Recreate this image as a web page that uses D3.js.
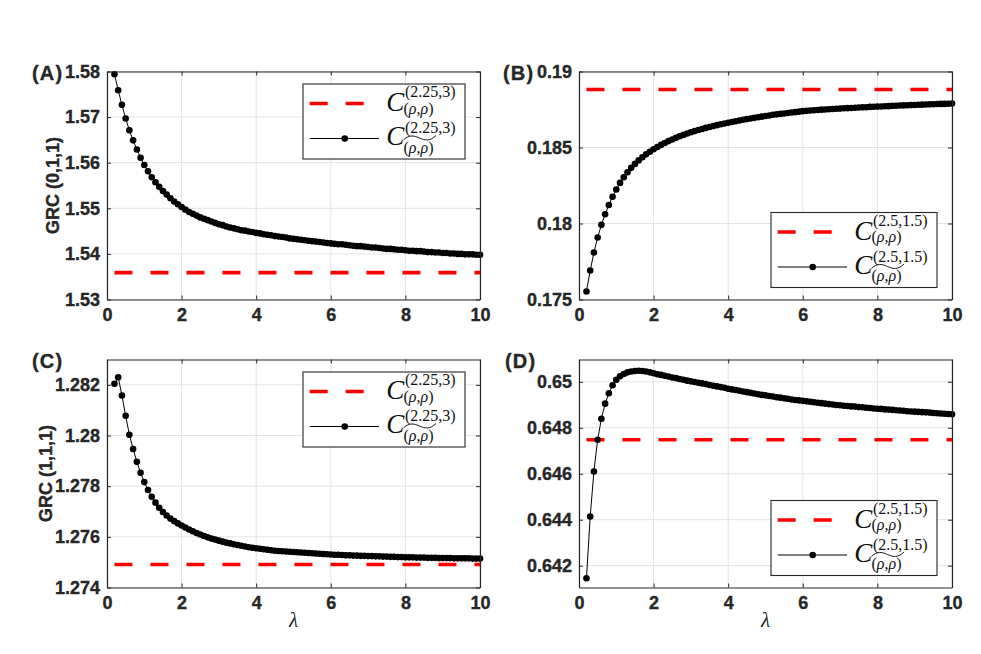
<!DOCTYPE html>
<html>
<head>
<meta charset="utf-8">
<script src="https://cdn.jsdelivr.net/npm/d3@7"></script>
<style>
  body { margin: 0; background: #fff; }
  .axis text { font-family: "Liberation Sans", Arial, sans-serif; font-weight: bold; font-size: 18px; fill: #262626; stroke: #262626; stroke-width: 0.35px; }
  .axis path, .axis line { stroke: #262626; }
</style>
</head>
<body>
<svg id="chart" width="981" height="654"></svg>
<script>
// lambda values (x axis of every panel)
var lambda = [0.2,0.3,0.4,0.5,0.6,0.7,0.8,0.9,
  1.0,1.1,1.2,1.3,1.4,1.5,1.6,1.7,1.8,1.9,
  2.0,2.1,2.2,2.3,2.4,2.5,2.6,2.7,2.8,2.9,
  3.0,3.1,3.2,3.3,3.4,3.5,3.6,3.7,3.8,3.9,
  4.0,4.1,4.2,4.3,4.4,4.5,4.6,4.7,4.8,4.9,
  5.0,5.1,5.2,5.3,5.4,5.5,5.6,5.7,5.8,5.9,
  6.0,6.1,6.2,6.3,6.4,6.5,6.6,6.7,6.8,6.9,
  7.0,7.1,7.2,7.3,7.4,7.5,7.6,7.7,7.8,7.9,
  8.0,8.1,8.2,8.3,8.4,8.5,8.6,8.7,8.8,8.9,
  9.0,9.1,9.2,9.3,9.4,9.5,9.6,9.7,9.8,9.9,
  10.0];

// (A) GRC (0,1,1), parameters (2.25,3)
var grcA = [1.5794,1.5759,1.5727,1.5697,1.5671,1.5649,1.5629,1.5611,
  1.5595,1.5581,1.5568,1.5557,1.5547,1.5538,1.5530,1.5522,1.5515,1.5509,
  1.5503,1.5497,1.5492,1.5488,1.5484,1.5480,1.5477,1.5474,1.5471,1.5468,
  1.5465,1.5463,1.5460,1.5458,1.5456,1.5454,1.5452,1.5451,1.5449,1.5448,
  1.5446,1.5445,1.5443,1.5442,1.5441,1.5439,1.5438,1.5437,1.5436,1.5434,
  1.5433,1.5432,1.5431,1.5430,1.5429,1.5428,1.5427,1.5426,1.5425,1.5424,
  1.5423,1.5422,1.5421,1.5421,1.5420,1.5419,1.5418,1.5417,1.5417,1.5416,
  1.5415,1.5414,1.5414,1.5413,1.5412,1.5411,1.5411,1.5410,1.5409,1.5409,
  1.5408,1.5407,1.5407,1.5406,1.5406,1.5405,1.5404,1.5404,1.5403,1.5403,
  1.5402,1.5402,1.5401,1.5401,1.5400,1.5400,1.5399,1.5399,1.5399,1.5398,
  1.5398];
var refA = 1.5359;

// (B) parameters (2.5,1.5)
var grcB = [0.17553,0.17691,0.17809,0.17908,0.17991,0.18061,0.18122,0.18176,
  0.18224,0.18267,0.18304,0.18337,0.18366,0.18392,0.18415,0.18436,0.18455,0.18472,
  0.18488,0.18503,0.18517,0.18530,0.18542,0.18553,0.18564,0.18574,0.18583,0.18592,
  0.18600,0.18608,0.18615,0.18622,0.18629,0.18635,0.18641,0.18647,0.18653,0.18658,
  0.18663,0.18668,0.18673,0.18678,0.18683,0.18687,0.18691,0.18695,0.18699,0.18703,
  0.18707,0.18711,0.18715,0.18718,0.18721,0.18724,0.18727,0.18730,0.18733,0.18736,
  0.18739,0.18741,0.18743,0.18745,0.18747,0.18749,0.18750,0.18752,0.18753,0.18755,
  0.18756,0.18758,0.18759,0.18760,0.18762,0.18763,0.18764,0.18765,0.18767,0.18768,
  0.18769,0.18770,0.18771,0.18772,0.18774,0.18775,0.18776,0.18777,0.18778,0.18779,
  0.18780,0.18781,0.18782,0.18783,0.18784,0.18785,0.18786,0.18787,0.18787,0.18788,
  0.18789];
var refB = 0.18882;

// (C) GRC (1,1,1), parameters (2.25,3)
var grcC = [1.28204,1.28230,1.28158,1.28078,1.28003,1.27947,1.27896,1.27853,
  1.27816,1.27785,1.27758,1.27735,1.27715,1.27698,1.27684,1.27672,1.27662,1.27653,
  1.27645,1.27637,1.27629,1.27622,1.27615,1.27609,1.27603,1.27598,1.27593,1.27589,
  1.27585,1.27581,1.27577,1.27574,1.27571,1.27568,1.27565,1.27562,1.27559,1.27557,
  1.27555,1.27553,1.27551,1.27549,1.27547,1.27545,1.27544,1.27543,1.27542,1.27541,
  1.27540,1.27539,1.27538,1.27537,1.27536,1.27535,1.27534,1.27533,1.27532,1.27531,
  1.27530,1.27529,1.27529,1.27528,1.27527,1.27527,1.27526,1.27526,1.27525,1.27525,
  1.27524,1.27524,1.27523,1.27523,1.27522,1.27522,1.27521,1.27521,1.27520,1.27520,
  1.27519,1.27519,1.27519,1.27518,1.27518,1.27518,1.27517,1.27517,1.27517,1.27516,
  1.27516,1.27516,1.27516,1.27515,1.27515,1.27515,1.27515,1.27515,1.27514,1.27514,
  1.27514];
var refC = 1.27491;

// (D) parameters (2.5,1.5)
var grcD = [0.64145,0.64414,0.64610,0.64748,0.64839,0.64905,0.64950,0.64985,
  0.65009,0.65024,0.65034,0.65041,0.65045,0.65047,0.65048,0.65047,0.65045,0.65041,
  0.65037,0.65033,0.65030,0.65026,0.65023,0.65019,0.65016,0.65012,0.65009,0.65005,
  0.65002,0.64999,0.64996,0.64993,0.64990,0.64986,0.64983,0.64980,0.64977,0.64974,
  0.64970,0.64967,0.64964,0.64961,0.64958,0.64955,0.64952,0.64949,0.64946,0.64943,
  0.64941,0.64938,0.64936,0.64933,0.64931,0.64928,0.64926,0.64923,0.64921,0.64919,
  0.64917,0.64915,0.64913,0.64911,0.64909,0.64907,0.64905,0.64903,0.64901,0.64899,
  0.64898,0.64896,0.64895,0.64893,0.64892,0.64890,0.64889,0.64887,0.64886,0.64884,
  0.64883,0.64882,0.64880,0.64879,0.64878,0.64876,0.64875,0.64874,0.64872,0.64871,
  0.64870,0.64869,0.64868,0.64867,0.64866,0.64864,0.64863,0.64862,0.64861,0.64860,
  0.64859];
var refD = 0.64748;

// axes: domains and tick labels
var xDomain = [0, 10];
var xTicks = [0, 2, 4, 6, 8, 10];
var domainA = [1.53, 1.58],     ticksA = [1.53, 1.54, 1.55, 1.56, 1.57, 1.58],  labelsA = ["1.53","1.54","1.55","1.56","1.57","1.58"];
var domainB = [0.175, 0.19],    ticksB = [0.175, 0.18, 0.185, 0.19],            labelsB = ["0.175","0.18","0.185","0.19"];
var domainC = [1.274, 1.283],   ticksC = [1.274, 1.276, 1.278, 1.28, 1.282],    labelsC = ["1.274","1.276","1.278","1.28","1.282"];
var domainD = [0.64105, 0.65097], ticksD = [0.642, 0.644, 0.646, 0.648, 0.65], labelsD = ["0.642","0.644","0.646","0.648","0.65"];

var supA = "(2.25,3)", supB = "(2.5,1.5)";

var svg = d3.select("#chart");
var W = 373, H = 228;

var panels = [
  { tag: "(A)", tagX: 32,  left: 107, top: 71.5,  values: grcA, ref: refA, domain: domainA, ticks: ticksA, labels: labelsA, sup: supA, legendPos: "top",    yTitle: "GRC (0,1,1)", yTitleX: 58.5, xTitle: false },
  { tag: "(B)", tagX: 503, left: 579, top: 71.5,  values: grcB, ref: refB, domain: domainB, ticks: ticksB, labels: labelsB, sup: supB, legendPos: "bottom", yTitle: null,          yTitleX: 0,    xTitle: false },
  { tag: "(C)", tagX: 32,  left: 107, top: 359.5, values: grcC, ref: refC, domain: domainC, ticks: ticksC, labels: labelsC, sup: supA, legendPos: "top",    yTitle: "GRC (1,1,1)", yTitleX: 51.5, xTitle: true },
  { tag: "(D)", tagX: 505, left: 579, top: 359.5, values: grcD, ref: refD, domain: domainD, ticks: ticksD, labels: labelsD, sup: supB, legendPos: "bottom", yTitle: null,          yTitleX: 0,    xTitle: true }
];

panels.forEach(function (p) {
  var x = d3.scaleLinear().domain(xDomain).range([p.left, p.left + W]);
  var y = d3.scaleLinear().domain(p.domain).range([p.top + H, p.top]);
  var g = svg.append("g");

  // grid
  g.selectAll(".gx").data(xTicks).enter().append("line")
    .attr("x1", function (d) { return x(d); }).attr("x2", function (d) { return x(d); })
    .attr("y1", p.top).attr("y2", p.top + H)
    .attr("stroke", "#e3e3e3").attr("stroke-width", 1);
  g.selectAll(".gy").data(p.ticks).enter().append("line")
    .attr("x1", p.left).attr("x2", p.left + W)
    .attr("y1", function (d) { return y(d); }).attr("y2", function (d) { return y(d); })
    .attr("stroke", "#e3e3e3").attr("stroke-width", 1);

  // reference (red dashed) line
  g.append("line")
    .attr("x1", x(lambda[0])).attr("x2", x(xDomain[1]))
    .attr("y1", y(p.ref)).attr("y2", y(p.ref))
    .attr("stroke", "#ff0000").attr("stroke-width", 3.6)
    .attr("stroke-dasharray", "18,18");

  // estimated curve with markers
  var line = d3.line()
    .x(function (d, i) { return x(lambda[i]); })
    .y(function (d) { return y(d); });
  g.append("path").datum(p.values)
    .attr("d", line).attr("fill", "none")
    .attr("stroke", "#000").attr("stroke-width", 1);
  g.selectAll(".pt").data(p.values).enter().append("circle")
    .attr("cx", function (d, i) { return x(lambda[i]); })
    .attr("cy", function (d) { return y(d); })
    .attr("r", 3.3).attr("fill", "#000");

  // axes (MATLAB style: inward ticks, box on)
  var labelMap = {};
  p.ticks.forEach(function (t, i) { labelMap[t] = p.labels[i]; });

  g.append("g").attr("class", "axis")
    .attr("transform", "translate(0," + (p.top + H) + ")")
    .call(d3.axisBottom(x).tickValues(xTicks).tickSizeInner(-4).tickSizeOuter(0).tickPadding(9)
      .tickFormat(d3.format("d")));
  g.append("g").attr("class", "axis")
    .attr("transform", "translate(0," + p.top + ")")
    .call(d3.axisTop(x).tickValues(xTicks).tickSizeInner(-4).tickSizeOuter(0).tickFormat(""));
  g.append("g").attr("class", "axis")
    .attr("transform", "translate(" + p.left + ",0)")
    .call(d3.axisLeft(y).tickValues(p.ticks).tickSizeInner(-4).tickSizeOuter(0).tickPadding(7)
      .tickFormat(function (d) { return labelMap[d]; }));
  g.append("g").attr("class", "axis")
    .attr("transform", "translate(" + (p.left + W) + ",0)")
    .call(d3.axisRight(y).tickValues(p.ticks).tickSizeInner(-4).tickSizeOuter(0).tickFormat(""));
  g.selectAll(".axis").attr("font-family", null).attr("font-size", null);
  g.selectAll(".axis path").attr("stroke-width", 1.2);

  // panel tag
  g.append("text")
    .attr("x", p.tagX).attr("y", p.top + 8)
    .attr("font-family", "Liberation Sans, Arial, sans-serif")
    .attr("font-weight", "bold").attr("font-size", 20)
    .attr("letter-spacing", 1.2)
    .attr("fill", "#262626").attr("stroke", "#262626").attr("stroke-width", 0.35)
    .text(p.tag);

  if (p.yTitle) {
    g.append("text")
      .attr("transform", "translate(" + p.yTitleX + "," + (p.top + H / 2) + ") rotate(-90)")
      .attr("text-anchor", "middle")
      .attr("font-family", "Liberation Sans, Arial, sans-serif")
      .attr("font-weight", "bold").attr("font-size", 18)
      .attr("fill", "#262626").attr("stroke", "#262626").attr("stroke-width", 0.35)
      .text(p.yTitle);
  }
  if (p.xTitle) {
    g.append("text")
      .attr("x", p.left + W / 2).attr("y", p.top + H + 39)
      .attr("text-anchor", "middle")
      .attr("font-family", "Liberation Serif, serif")
      .attr("font-style", "italic").attr("font-size", 21)
      .attr("fill", "#262626")
      .text("λ");
  }

  drawLegend(p);
});

function drawLegend(p) {
  var serif = "Liberation Serif, 'Times New Roman', serif";
  // measure superscript width to size the box
  var tmp = svg.append("text").attr("font-family", serif).attr("font-size", 16).text(p.sup);
  var supLen = tmp.node().getComputedTextLength();
  tmp.remove();
  var lw = Math.round(102 + supLen + 9), lh = 75;
  var lx = p.left + W - 15 - lw;
  var ly = p.legendPos === "top" ? p.top + 12.5 : p.top + H - 12 - lh;

  var lg = svg.append("g").attr("transform", "translate(" + lx + "," + ly + ")");
  lg.append("rect").attr("width", lw).attr("height", lh)
    .attr("fill", "#fff").attr("stroke", "#262626").attr("stroke-width", 1.1);

  // row 1: reference line
  lg.append("line").attr("x1", 6.7).attr("x2", 61).attr("y1", 19.5).attr("y2", 19.5)
    .attr("stroke", "#ff0000").attr("stroke-width", 3.6).attr("stroke-dasharray", "18,18");
  // row 2: curve with marker
  lg.append("line").attr("x1", 6.7).attr("x2", 76).attr("y1", 54.5).attr("y2", 54.5)
    .attr("stroke", "#000").attr("stroke-width", 1);
  lg.append("circle").attr("cx", 41.7).attr("cy", 54.5).attr("r", 3.3).attr("fill", "#000");

  [{ c: 27.3, sup: 13, sub: 29.5 }, { c: 61, sup: 49, sub: 68.5 }].forEach(function (r, k) {
    lg.append("text").attr("x", 83.3).attr("y", r.c)
      .attr("font-family", serif).attr("font-style", "italic").attr("font-size", 27)
      .attr("fill", "#111").text("C");
    lg.append("text").attr("x", 102).attr("y", r.sup)
      .attr("font-family", serif).attr("font-size", 16)
      .attr("fill", "#111").text(p.sup);
    var sub = lg.append("text").attr("x", 100.5).attr("y", r.sub)
      .attr("font-family", serif).attr("font-size", 16).attr("fill", "#111");
    sub.append("tspan").text("(");
    sub.append("tspan").attr("font-style", "italic").text("ρ");
    sub.append("tspan").text(",");
    sub.append("tspan").attr("font-style", "italic").text("ρ");
    sub.append("tspan").text(")");
    if (k === 1) {
      // wide tilde over the subscript
      lg.append("path")
        .attr("d", "M100.5,56 C106,50.5 111,51.5 116.5,54 S127,57.5 133,51.5")
        .attr("fill", "none").attr("stroke", "#111").attr("stroke-width", 1);
    }
  });
}
</script>
</body>
</html>
